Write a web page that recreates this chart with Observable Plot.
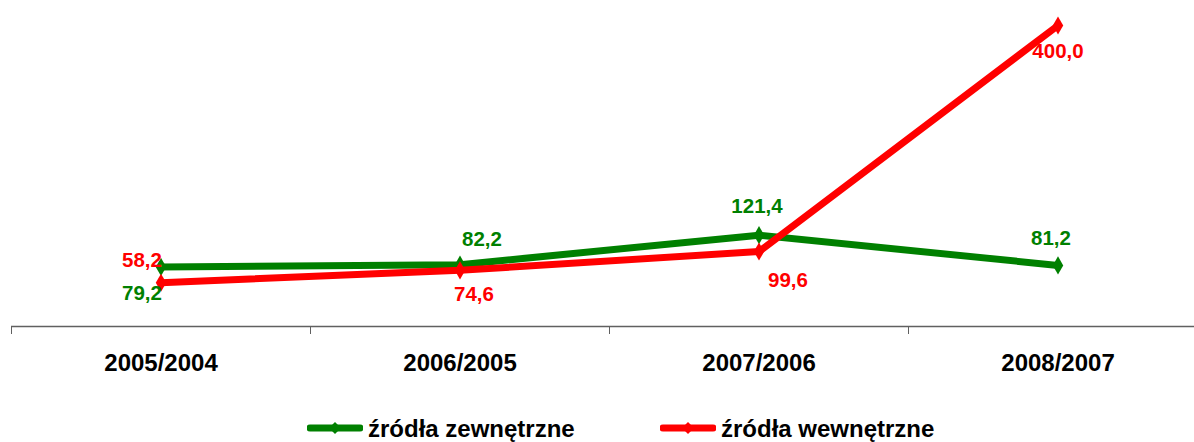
<!DOCTYPE html>
<html>
<head>
<meta charset="utf-8">
<script src="https://cdn.jsdelivr.net/npm/d3@7"></script>
<script src="https://cdn.jsdelivr.net/npm/@observablehq/plot@0.6"></script>
<style>
  html, body { margin: 0; padding: 0; background: #fff; overflow: hidden; }
  body { width: 1194px; height: 442px; font-family: "Liberation Sans", Arial, sans-serif; }
  #legend { position: relative; width: 1194px; height: 42px; overflow: hidden; }
  .item { position: absolute; top: 17px; display: flex; align-items: flex-start; font-weight: bold; font-size: 24px; line-height: 24px; color: #000; white-space: nowrap; }
  .item svg { display: block; margin-right: 5px; }
</style>
</head>
<body>
<div id="chart"></div>
<div id="legend"></div>
<script>
const categories = ["2005/2004", "2006/2005", "2007/2006", "2008/2007"];
const zewnetrzne = [79.2, 82.2, 121.4, 81.2];
const wewnetrzne = [58.2, 74.6, 99.6, 400.0];
const seriesNames = ["źródła zewnętrzne", "źródła wewnętrzne"];
const seriesColors = ["#008000", "#ff0000"];
// label offsets (style only): [dx, dy]
const zewOffsets = [[-19, 27], [22, -25], [-2, -29], [-7, -27]];
const wewOffsets = [[-19, -22], [14, 24], [29, 29], [0, 26]];

const fmt = v => v.toFixed(1).replace(".", ",");
const rows = (vals) => categories.map((c, i) => ({pos: i + 0.5, cat: c, value: vals[i]}));
const zew = rows(zewnetrzne);
const wew = rows(wewnetrzne);

const labelMarks = (data, offsets, color) => data.map((d, i) =>
  Plot.text([d], {
    x: "pos", y: "value", text: r => fmt(r.value),
    dx: offsets[i][0], dy: offsets[i][1],
    fill: color, fontSize: 20.5, fontWeight: "bold",
    fontFamily: "Liberation Sans, Arial, sans-serif"
  })
);

const plot = Plot.plot({
  width: 1194,
  height: 400,
  marginLeft: 11,
  marginRight: 0,
  marginTop: 0,
  marginBottom: 74,
  x: {type: "linear", domain: [0, categories.length], range: [11, 1207],
      ticks: d3.range(categories.length), tickSize: 8, tickFormat: () => "", label: null},
  y: {type: "linear", domain: [0, 400], range: [326, 25], axis: null},
  style: {fontFamily: "Liberation Sans, Arial, sans-serif", background: "#fff", color: "#606060"},
  marks: [
    Plot.ruleY([0], {stroke: "#606060", strokeWidth: 1.5}),
    Plot.line(zew, {x: "pos", y: "value", stroke: seriesColors[0], strokeWidth: 7, strokeLinejoin: "miter", strokeLinecap: "butt"}),
    Plot.dot(zew, {x: "pos", y: "value", symbol: "diamond", r: 5.5, fill: seriesColors[0], stroke: "none"}),
    Plot.line(wew, {x: "pos", y: "value", stroke: seriesColors[1], strokeWidth: 7, strokeLinejoin: "miter", strokeLinecap: "butt"}),
    Plot.dot(wew, {x: "pos", y: "value", symbol: "diamond", r: 5.5, fill: seriesColors[1], stroke: "none"}),
    ...labelMarks(zew, zewOffsets, seriesColors[0]),
    ...labelMarks(wew, wewOffsets, seriesColors[1]),
    Plot.text(categories, {x: (d, i) => i + 0.5, y: 0, text: d => d, dy: 37, fontSize: 24, fontWeight: "bold", fill: "#000"})
  ]
});
document.getElementById("chart").appendChild(plot);

// legend
const legend = document.getElementById("legend");
const legendLeft = [307, 660];
seriesNames.forEach((name, i) => {
  const item = document.createElement("div");
  item.className = "item";
  item.style.left = legendLeft[i] + "px";
  item.innerHTML = `<svg width="56" height="24"><line x1="3" y1="11" x2="53" y2="11" stroke="${seriesColors[i]}" stroke-width="7" stroke-linecap="round"/><path d="M28,5 L34,11 L28,17 L22,11 Z" fill="${seriesColors[i]}"/></svg><span>${name}</span>`;
  legend.appendChild(item);
});
</script>
</body>
</html>
